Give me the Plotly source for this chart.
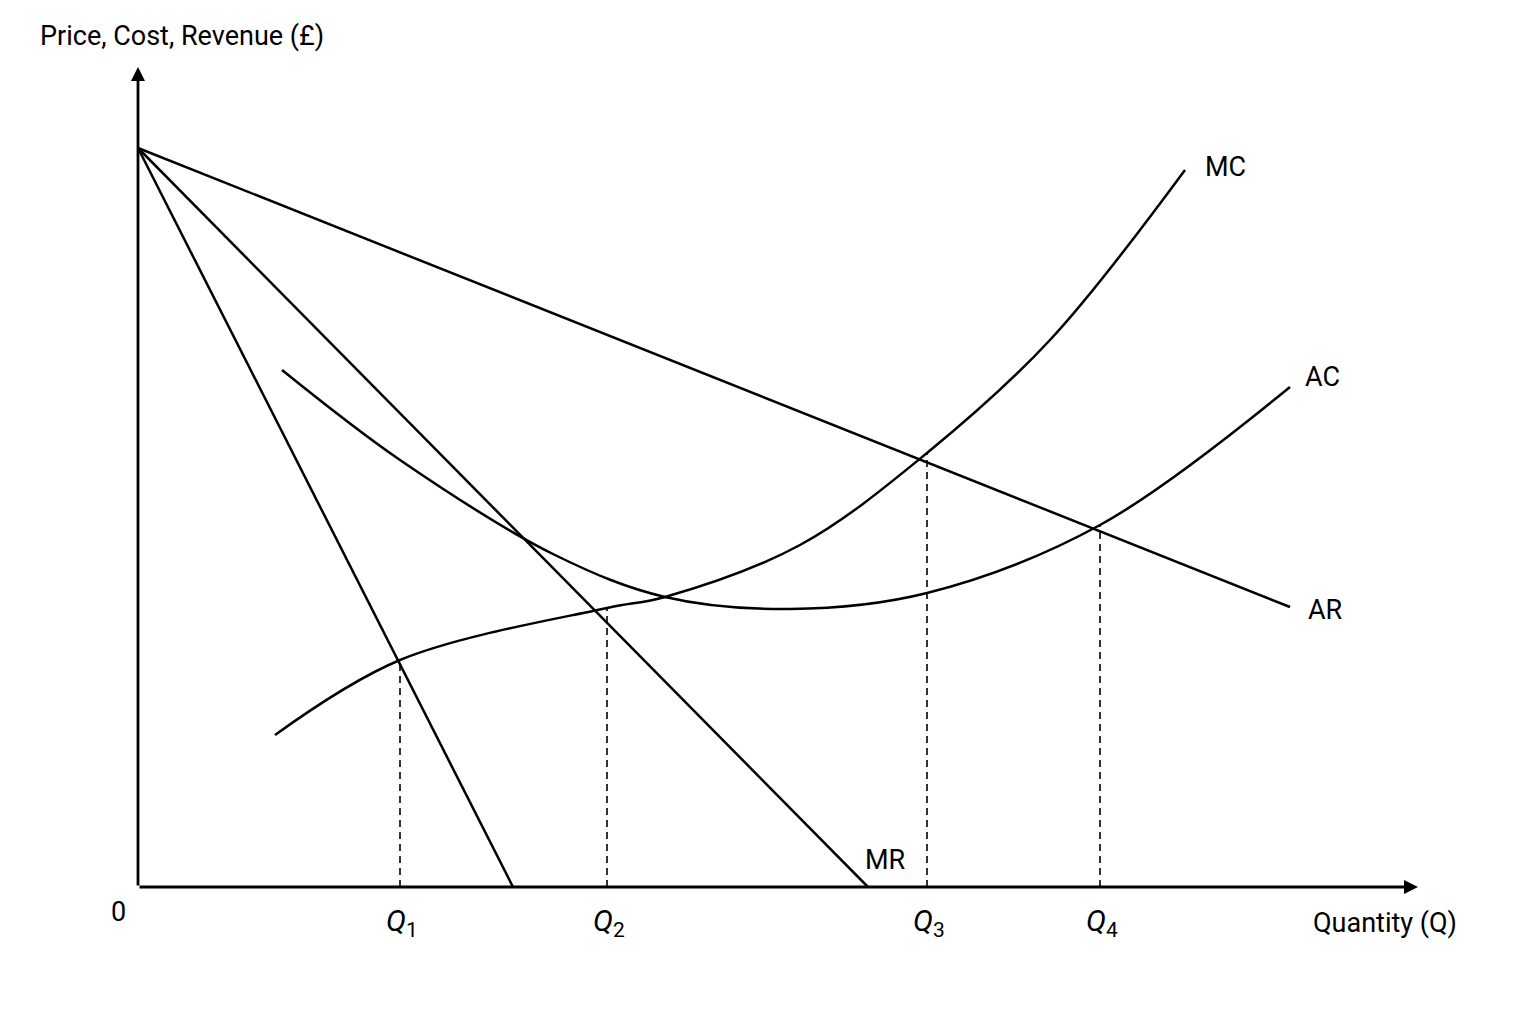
import plotly.graph_objects as go

# Data units: quantity (x) and price (y), origin at the axes' corner
ar_x = [0, 1152]; ar_y = [739, 280]
mr_x = [0, 730]; mr_y = [739, 0]
mr2_x = [0, 375]; mr2_y = [739, 0]
mc_x = [137, 262, 469, 527, 662, 789, 912, 1047]
mc_y = [152, 227, 279, 290, 342, 434, 547, 717]
ac_x = [144, 262, 417, 527, 652, 789, 962, 1152]
ac_y = [517, 427, 332, 290, 278, 294, 362, 500]
q_x = [262, 469, 789, 962]
q_top = [227, 279, 434, 362]
q_labels = ["1", "2", "3", "4"]

fig = go.Figure()
line = dict(color="black", width=2.5)
spl = dict(color="black", width=2.5, shape="spline", smoothing=1.0)
fig.add_trace(go.Scatter(x=ar_x, y=ar_y, mode="lines", line=line))
fig.add_trace(go.Scatter(x=mr_x, y=mr_y, mode="lines", line=line))
fig.add_trace(go.Scatter(x=mr2_x, y=mr2_y, mode="lines", line=line))
fig.add_trace(go.Scatter(x=mc_x, y=mc_y, mode="lines", line=spl))
fig.add_trace(go.Scatter(x=ac_x, y=ac_y, mode="lines", line=spl))
for qx, qt in zip(q_x, q_top):
    fig.add_trace(go.Scatter(x=[qx, qx], y=[0, qt], mode="lines",
                             line=dict(color="black", width=1.6, dash="7px,5px")))

fig.add_annotation(x=0, y=820, ax=0, ay=0, xref="x", yref="y", axref="x", ayref="y",
                   showarrow=True, arrowhead=2, arrowsize=1, arrowwidth=2.8, arrowcolor="black", text="")
fig.add_annotation(x=1280, y=0, ax=0, ay=0, xref="x", yref="y", axref="x", ayref="y",
                   showarrow=True, arrowhead=2, arrowsize=1, arrowwidth=2.8, arrowcolor="black", text="")

def lab(x, y, t, anchor="center", size=27):
    fig.add_annotation(x=x, y=y, text=t, showarrow=False, xanchor=anchor,
                       font=dict(family="Roboto, Arial", size=size, color="black"))
lab(1087, 720, "MC")
lab(1184, 510, "AC")
lab(1187, 277, "AR")
lab(747, 27, "MR")
lab(-20, -25, "0")
for qx, ql in zip(q_x, q_labels):
    lab(qx + 2, -35, f"<i>Q</i><sub>{ql}</sub>", size=30)
lab(1247, -36, "Quantity (Q)")
lab(-100, 851, "Price, Cost, Revenue (£)", anchor="left")

fig.update_layout(width=1536, height=1024, showlegend=False,
                  paper_bgcolor="white", plot_bgcolor="white",
                  margin=dict(l=0, r=0, t=0, b=0))
fig.update_xaxes(range=[-130, 1406], visible=False)
fig.update_yaxes(range=[-145, 879], visible=False)
fig.write_html("out.html")
